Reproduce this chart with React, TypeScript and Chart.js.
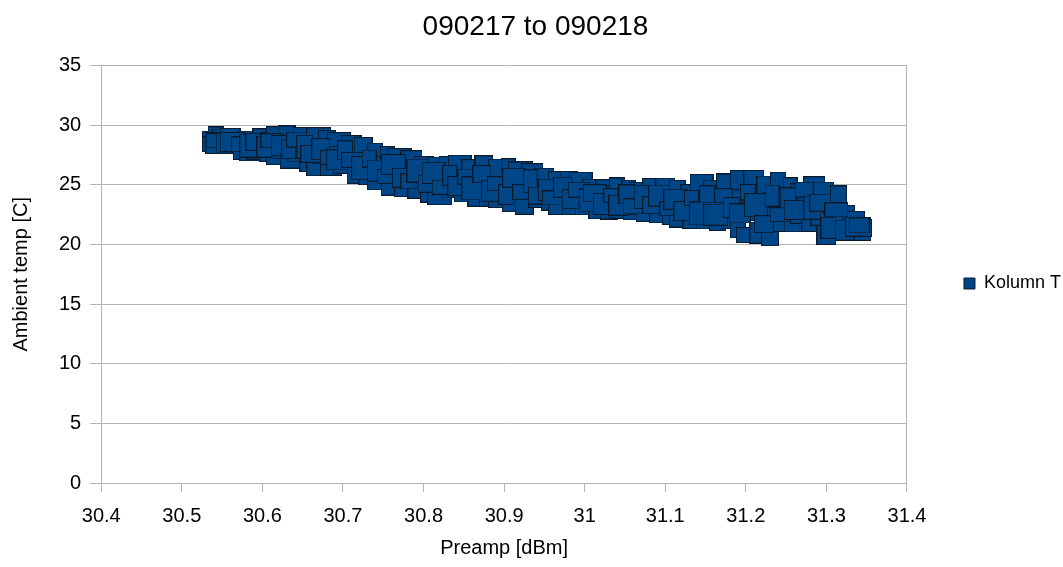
import React, { useEffect, useRef } from "react";
import { Chart, registerables } from "chart.js";

Chart.register(...registerables);

const chartTitle = "090217 to 090218";
const seriesName = "Kolumn T";
const xAxisTitle = "Preamp [dBm]";
const yAxisTitle = "Ambient temp [C]";

const xTickLabels = ["30.4", "30.5", "30.6", "30.7", "30.8", "30.9", "31", "31.1", "31.2", "31.3", "31.4"];
const yTickLabels = ["0", "5", "10", "15", "20", "25", "30", "35"];

// first sweep of samples
const preampA = [
  30.536, 30.539, 30.542, 30.545, 30.55, 30.555, 30.56, 30.565, 30.57, 30.575,
  30.58, 30.585, 30.59, 30.595, 30.6, 30.605, 30.61, 30.615, 30.62, 30.625,
  30.63, 30.635, 30.64, 30.645, 30.65, 30.655, 30.66, 30.665, 30.67, 30.675,
  30.68, 30.685, 30.69, 30.695, 30.7, 30.705, 30.71, 30.715, 30.72, 30.725,
  30.73, 30.735, 30.74, 30.745, 30.75, 30.755, 30.76, 30.765, 30.77, 30.775,
  30.78, 30.785, 30.79, 30.795, 30.8, 30.805, 30.81, 30.815, 30.82, 30.825,
  30.83, 30.835, 30.84, 30.845, 30.85, 30.855, 30.86, 30.865, 30.87, 30.875,
  30.88, 30.885, 30.89, 30.895, 30.9, 30.905, 30.91, 30.915, 30.92, 30.925,
  30.93, 30.935, 30.94, 30.945, 30.95, 30.955, 30.96, 30.965, 30.97, 30.975,
  30.98, 30.985, 30.99, 30.995, 31.0, 31.005, 31.01, 31.015, 31.02, 31.025,
  31.03, 31.035, 31.04, 31.045, 31.05, 31.055, 31.06, 31.065, 31.07, 31.075,
  31.08, 31.085, 31.09, 31.095, 31.1, 31.105, 31.11, 31.115, 31.12, 31.125,
  31.13, 31.135, 31.14, 31.145, 31.15, 31.155, 31.16, 31.165, 31.17, 31.175,
  31.18, 31.185, 31.19, 31.195, 31.2, 31.205, 31.21, 31.215, 31.22, 31.225,
  31.23, 31.235, 31.24, 31.245, 31.25, 31.255, 31.26, 31.265, 31.27, 31.275,
  31.28, 31.285, 31.29, 31.295, 31.3, 31.305, 31.31, 31.315, 31.32, 31.325,
  31.33, 31.334, 31.338, 31.341, 31.344,
];
const tempA = [
  28.7, 28.4, 28.9, 28.5, 28.8, 28.3, 28.9, 28.4, 28.7, 28.1,
  28.8, 27.9, 28.5, 28.0, 28.9, 27.6, 28.4, 27.4, 29.0, 27.8,
  29.1, 27.2, 28.5, 27.9, 29.1, 27.0, 28.3, 26.6, 29.0, 27.4,
  28.6, 26.5, 27.9, 28.8, 26.8, 27.6, 28.5, 26.1, 27.3, 28.1,
  25.6, 26.8, 27.7, 25.2, 26.4, 27.5, 25.0, 26.2, 27.2, 24.8,
  25.9, 26.9, 24.6, 25.7, 26.8, 24.4, 25.5, 26.7, 24.3, 25.3,
  26.5, 24.5, 25.6, 26.7, 24.2, 25.2, 26.4, 24.1, 25.0, 26.6,
  24.0, 25.4, 26.2, 23.8, 24.8, 26.6, 23.6, 25.0, 26.3, 23.5,
  24.6, 25.9, 23.7, 24.9, 25.6, 23.5, 24.4, 25.4, 23.4, 24.2,
  25.3, 23.3, 24.5, 25.1, 23.2, 24.0, 24.9, 23.0, 23.8, 24.8,
  23.1, 24.2, 24.7, 22.8, 23.6, 24.6, 22.7, 23.5, 24.5, 22.8,
  23.9, 24.7, 22.6, 23.4, 24.6, 22.4, 23.3, 24.8, 22.3, 23.6,
  24.4, 22.3, 23.1, 25.0, 21.9, 23.5, 24.6, 21.8, 23.0, 25.2,
  22.2, 24.0, 21.4, 25.4, 20.8, 23.2, 25.5, 21.0, 22.6, 24.9,
  20.7, 23.7, 25.1, 21.8, 22.9, 25.0, 21.9, 24.3, 22.4, 23.5,
  21.8, 24.8, 22.2, 24.4, 20.8, 23.2, 21.6, 24.2, 22.4, 20.9,
  21.8, 22.0, 21.5, 21.3, 21.4,
];

// second sweep of samples
const preampB = [
  30.5385, 30.5425, 30.5525, 30.5625, 30.5725, 30.5825, 30.5925, 30.6025, 30.6125, 30.6225,
  30.6325, 30.6425, 30.6525, 30.6625, 30.6725, 30.6825, 30.6925, 30.7025, 30.7125, 30.7225,
  30.7325, 30.7425, 30.7525, 30.7625, 30.7725, 30.7825, 30.7925, 30.8025, 30.8125, 30.8225,
  30.8325, 30.8425, 30.8525, 30.8625, 30.8725, 30.8825, 30.8925, 30.9025, 30.9125, 30.9225,
  30.9325, 30.9425, 30.9525, 30.9625, 30.9725, 30.9825, 30.9925, 31.0025, 31.0125, 31.0225,
  31.0325, 31.0425, 31.0525, 31.0625, 31.0725, 31.0825, 31.0925, 31.1025, 31.1125, 31.1225,
  31.1325, 31.1425, 31.1525, 31.1625, 31.1725, 31.1825, 31.1925, 31.2025, 31.2125, 31.2225,
  31.2325, 31.2425, 31.2525, 31.2625, 31.2725, 31.2825, 31.2925, 31.3025, 31.3125, 31.3225,
  31.3325, 31.3405,
];
const tempB = [
  28.5, 28.7, 28.5, 28.6, 28.4, 28.3, 28.6, 28.2, 28.7, 28.3,
  28.0, 28.8, 28.2, 27.6, 28.0, 27.3, 27.1, 27.9, 27.1, 26.4,
  27.2, 26.2, 25.7, 26.7, 25.6, 25.3, 26.2, 25.1, 26.0, 24.8,
  25.8, 24.9, 25.7, 24.7, 25.9, 24.5, 25.1, 24.2, 25.6, 24.4,
  25.3, 24.1, 24.6, 23.9, 24.8, 23.8, 24.6, 23.7, 24.3, 23.4,
  24.1, 23.3, 24.2, 23.2, 24.0, 23.3, 24.1, 23.0, 23.8, 22.8,
  23.9, 22.6, 24.2, 22.5, 24.1, 23.1, 22.6, 24.4, 23.3, 21.7,
  24.1, 22.5, 23.9, 22.9, 24.6, 23.1, 23.5, 21.4, 22.9, 21.2,
  21.5, 21.6,
];

// marker style cycles (pixel sizes of the rectangular symbols)
const markerWidths = [18, 22, 16, 24, 20, 15, 21, 17, 25, 19];
const markerHeights = [20, 16, 24, 18, 22, 15, 21];

const FONT = "'Liberation Sans', Arial, sans-serif";
const GRID = "#b3b3b3";
const FILL = "#004586";
const EDGE = "#0b1a2b";

const markerCache: Record<string, HTMLCanvasElement> = {};
function markerImage(w: number, h: number): HTMLCanvasElement {
  const key = w + "x" + h;
  if (markerCache[key]) return markerCache[key];
  const c = document.createElement("canvas");
  c.width = w;
  c.height = h;
  const g = c.getContext("2d")!;
  g.fillStyle = FILL;
  g.fillRect(0, 0, w, h);
  g.strokeStyle = EDGE;
  g.lineWidth = 1;
  g.strokeRect(0.5, 0.5, w - 1, h - 1);
  markerCache[key] = c;
  return c;
}

export default function App() {
  const canvasRef = useRef<HTMLCanvasElement | null>(null);

  useEffect(() => {
    if (!canvasRef.current) return;
    const points = [
      ...preampA.map((x, i) => ({ x, y: tempA[i] })),
      ...preampB.map((x, i) => ({ x, y: tempB[i] })),
    ];
    const chart = new Chart(canvasRef.current, {
      type: "scatter",
      data: {
        datasets: [
          {
            label: seriesName,
            data: points,
            backgroundColor: FILL,
            borderColor: EDGE,
            borderWidth: 1,
            pointStyle: (ctx: any) =>
              markerImage(
                markerWidths[ctx.dataIndex % markerWidths.length],
                markerHeights[ctx.dataIndex % markerHeights.length]
              ),
            pointRadius: 10,
          },
        ],
      },
      options: {
        animation: false,
        responsive: true,
        maintainAspectRatio: false,
        layout: { padding: { left: 0, right: -8, top: 0, bottom: 0 } },
        plugins: {
          title: {
            display: true,
            text: chartTitle,
            color: "#000",
            font: { family: FONT, size: 28, weight: "normal", lineHeight: 1.2 },
            padding: { top: 10, bottom: 22 },
          },
          legend: {
            display: true,
            position: "right",
            labels: {
              boxWidth: 11,
              boxHeight: 11,
              padding: 57,
              color: "#000",
              font: { family: FONT, size: 18 },
            },
          },
          tooltip: { enabled: false },
        },
        scales: {
          x: {
            type: "linear",
            min: 30.4,
            max: 31.4,
            ticks: {
              stepSize: 0.1,
              color: "#000",
              padding: 12,
              maxRotation: 0,
              autoSkip: false,
              font: { family: FONT, size: 20 },
              callback: (_v: any, i: number) => xTickLabels[i],
            },
            grid: {
              color: (ctx: any) => (ctx.index === xTickLabels.length - 1 ? GRID : "rgba(0,0,0,0)"),
              tickColor: GRID,
              tickLength: 9,
              lineWidth: 1,
            },
            border: { color: GRID },
            title: {
              display: true,
              text: xAxisTitle,
              color: "#000",
              font: { family: FONT, size: 20 },
              padding: { top: -4, bottom: 7 },
            },
          },
          y: {
            type: "linear",
            min: 0,
            max: 35,
            ticks: {
              stepSize: 5,
              color: "#000",
              padding: 9,
              font: { family: FONT, size: 20 },
              callback: (_v: any, i: number) => yTickLabels[i],
            },
            grid: {
              color: GRID,
              tickColor: GRID,
              tickLength: 11,
              lineWidth: 1,
            },
            border: { color: GRID },
            title: {
              display: true,
              text: yAxisTitle,
              color: "#000",
              font: { family: FONT, size: 20 },
              padding: { top: 9, bottom: 17 },
            },
          },
        },
      },
    } as any);
    return () => chart.destroy();
  }, []);

  return (
    <div style={{ position: "absolute", left: 0, top: 0, width: 1063, height: 567, background: "#fff" }}>
      <canvas ref={canvasRef} />
    </div>
  );
}
